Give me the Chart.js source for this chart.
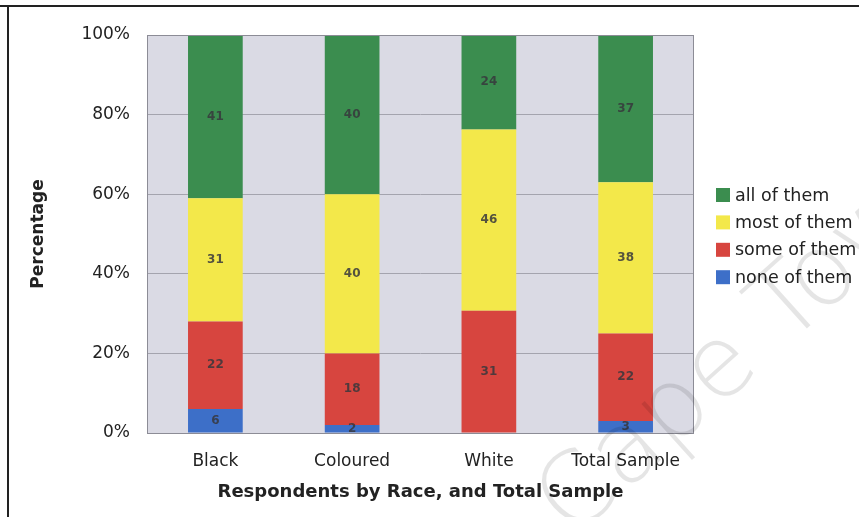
<!DOCTYPE html>
<html>
<head>
<meta charset="utf-8">
<script src="https://cdn.jsdelivr.net/npm/chart.js@4/dist/chart.umd.min.js"></script>
<style>
  html, body { margin: 0; padding: 0; background: #fff; }
  #wrap { position: relative; width: 859px; height: 517px; }
</style>
</head>
<body>
<div id="wrap"><canvas id="c" width="859" height="517"></canvas></div>
<script>
// Categories and response counts (percent of respondents per group)
const categories = ['Black', 'Coloured', 'White', 'Total Sample'];
const seriesNames = ['none of them', 'some of them', 'most of them', 'all of them'];
const noneOfThem = [6, 2, 0, 3];
const someOfThem = [22, 18, 31, 22];
const mostOfThem = [31, 40, 46, 38];
const allOfThem  = [41, 40, 24, 37];
const yTickLabels = ['0%', '20%', '40%', '60%', '80%', '100%'];

const seriesValues = [noneOfThem, someOfThem, mostOfThem, allOfThem];
const seriesColors = ['#3d6fc8', '#d7453f', '#f3e84a', '#3b8d4f'];

// Each column is scaled to 100%
const totals = categories.map((_, i) => seriesValues.reduce((s, arr) => s + arr[i], 0));

const datasets = seriesNames.map((name, k) => ({
  label: name,
  rawValues: seriesValues[k],
  data: seriesValues[k].map((v, i) => v / totals[i] * 100),
  backgroundColor: seriesColors[k],
  borderWidth: 0,
  barPercentage: 0.4,
  categoryPercentage: 1.0
}));

const FONT = '"DejaVu Sans", Verdana, sans-serif';

// Page frame, plot background and border
const framePlugin = {
  id: 'frame',
  beforeDraw(chart) {
    const ctx = chart.ctx, a = chart.chartArea;
    ctx.save();
    ctx.fillStyle = '#fff';
    ctx.fillRect(0, 0, chart.width, chart.height);
    ctx.fillStyle = '#dadae4';
    ctx.fillRect(a.left, a.top, a.right - a.left, a.bottom - a.top);
    ctx.restore();
  },
  afterDraw(chart) {
    const ctx = chart.ctx, a = chart.chartArea;
    ctx.save();
    ctx.strokeStyle = '#8c8c96';
    ctx.lineWidth = 1;
    ctx.strokeRect(a.left + 0.5, a.top + 0.5, a.right - a.left - 1, a.bottom - a.top);
    ctx.strokeStyle = '#222';
    ctx.lineWidth = 2;
    ctx.beginPath();
    ctx.moveTo(0, 6); ctx.lineTo(chart.width, 6);
    ctx.moveTo(8, 5); ctx.lineTo(8, chart.height);
    ctx.stroke();
    ctx.restore();
  }
};

// Value labels centred in each stacked segment
const segmentLabels = {
  id: 'segmentLabels',
  afterDatasetsDraw(chart) {
    const ctx = chart.ctx;
    ctx.save();
    ctx.font = 'bold 12px ' + FONT;
    ctx.fillStyle = 'rgba(55,55,60,0.85)';
    ctx.textAlign = 'center';
    ctx.textBaseline = 'middle';
    chart.data.datasets.forEach((ds, di) => {
      chart.getDatasetMeta(di).data.forEach((bar, i) => {
        const v = ds.rawValues[i];
        if (!v) return;
        const cy = (bar.y + bar.base) / 2;
        ctx.fillText(String(v), bar.x, cy);
      });
    });
    ctx.restore();
  }
};

// Legend on the right, top entry first
const sideLegend = {
  id: 'sideLegend',
  afterDraw(chart) {
    const ctx = chart.ctx;
    const x0 = 716, y0 = 195, step = 27.4;
    ctx.save();
    ctx.font = '17.5px ' + FONT;
    ctx.textBaseline = 'middle';
    ctx.textAlign = 'left';
    const items = chart.data.datasets.slice().reverse();
    items.forEach((ds, j) => {
      const y = y0 + j * step;
      ctx.fillStyle = ds.backgroundColor;
      ctx.fillRect(x0, y - 7, 14, 14);
      ctx.fillStyle = '#222';
      ctx.fillText(ds.label, x0 + 19, y + 1);
    });
    ctx.restore();
  }
};

// Faint diagonal watermark
const watermark = {
  id: 'watermark',
  afterDraw(chart) {
    const ctx = chart.ctx;
    ctx.save();
    ctx.translate(572, 540);
    ctx.rotate(-42 * Math.PI / 180);
    ctx.font = '200 100px ' + FONT;
    ctx.fillStyle = 'rgba(0,0,0,0.1)';
    ctx.fillText('Cape Town', 0, 0);
    ctx.restore();
  }
};

new Chart(document.getElementById('c'), {
  type: 'bar',
  data: { labels: categories, datasets },
  plugins: [framePlugin, segmentLabels, sideLegend, watermark],
  options: {
    responsive: false,
    animation: false,
    layout: { padding: { left: 28, top: 35, right: 165, bottom: 0 } },
    plugins: {
      legend: { display: false },
      tooltip: { enabled: false }
    },
    scales: {
      x: {
        stacked: true,
        grid: { display: false, drawTicks: false },
        border: { display: false },
        ticks: { color: '#222', font: { family: FONT, size: 17 }, padding: 18, maxRotation: 0 },
        title: {
          display: true,
          text: 'Respondents by Race, and Total Sample',
          color: '#222',
          font: { family: FONT, size: 18, weight: 'bold' },
          padding: { top: 0, bottom: 14 }
        },
        afterFit(scale) { scale.height = 84; }
      },
      y: {
        stacked: true,
        min: 0,
        max: 100,
        grid: { color: '#a4a4ae', lineWidth: 1, drawTicks: false },
        border: { display: false },
        ticks: {
          stepSize: 20,
          color: '#222',
          font: { family: FONT, size: 17 },
          padding: 17,
          callback: (v) => yTickLabels[Math.round(v / 20)]
        },
        title: {
          display: true,
          text: 'Percentage',
          color: '#222',
          font: { family: FONT, size: 17, weight: 'bold' },
          padding: { top: 0, bottom: 0 }
        },
        afterFit(scale) { scale.width = 119; }
      }
    }
  }
});
</script>
</body>
</html>
